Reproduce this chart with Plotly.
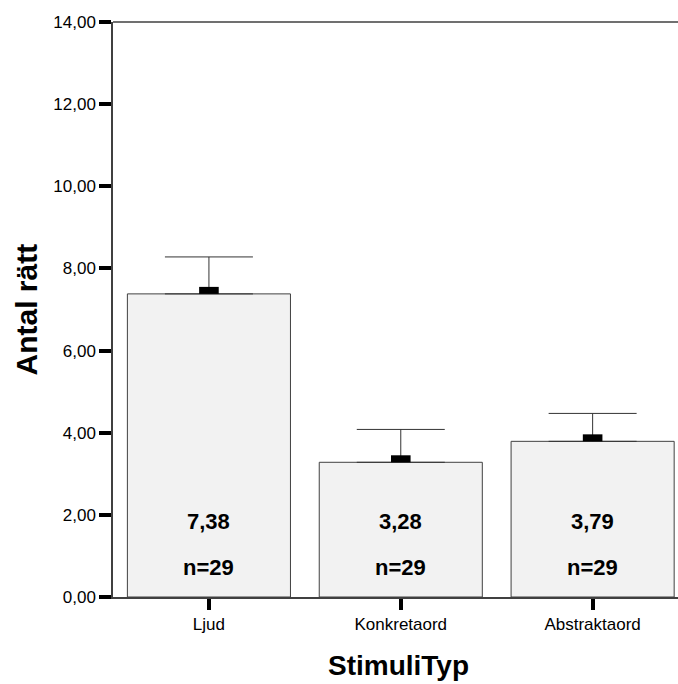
import plotly.graph_objects as go

categories = ["Ljud", "Konkretaord", "Abstraktaord"]
means = [7.38, 3.28, 3.79]
upper = [8.28, 4.08, 4.47]
counts = [29, 29, 29]
y_ticks = [0, 2, 4, 6, 8, 10, 12, 14]
y_ticklabels = ["0,00", "2,00", "4,00", "6,00", "8,00", "10,00", "12,00", "14,00"]

FONT = "Liberation Sans, Arial, sans-serif"
W, H = 678, 684
L, R, T, B = 113, 0, 22, 87
plot_h = H - T - B
ymax = 14
px_per_unit = plot_h / ymax

xs = list(range(len(categories)))

fig = go.Figure()
fig.add_trace(go.Bar(
    x=xs, y=means, width=0.85,
    marker=dict(color="#f2f2f2", line=dict(color="#404040", width=1)),
    error_y=dict(type="data", symmetric=False,
                 array=[u - m for u, m in zip(upper, means)],
                 arrayminus=[0] * len(means),
                 color="#333333", thickness=1, width=44),
    hoverinfo="skip", showlegend=False,
))
# mean marker: small black rectangle sitting on top of each bar
marker_h = 7
fig.add_trace(go.Scatter(
    x=xs, y=[m + (marker_h / 2) / px_per_unit for m in means],
    mode="markers",
    marker=dict(symbol="line-ew", size=14, color="black",
                line=dict(color="black", width=marker_h)),
    hoverinfo="skip", showlegend=False,
))

annotations = []
for i, (m, n) in enumerate(zip(means, counts)):
    annotations.append(dict(x=i, y=1.84, xref="x", yref="y",
                            text=f"{m:.2f}".replace(".", ","), showarrow=False,
                            font=dict(family=FONT, size=22, color="black", weight="bold")))
    annotations.append(dict(x=i, y=0.71, xref="x", yref="y",
                            text=f"n={n}", showarrow=False,
                            font=dict(family=FONT, size=22, color="black", weight="bold")))
annotations.append(dict(x=0, y=0.5, xref="paper", yref="paper", xshift=26 - L,
                        text="Antal rätt", textangle=-90, showarrow=False,
                        xanchor="center", yanchor="middle",
                        font=dict(family=FONT, size=30, color="black", weight="bold")))
annotations.append(dict(x=(398 - L) / (W - L - R), y=0, xref="paper", yref="paper",
                        yshift=-(665 - (H - B)),
                        text="StimuliTyp", showarrow=False,
                        xanchor="center", yanchor="middle",
                        font=dict(family=FONT, size=28, color="black", weight="bold")))

fig.update_layout(
    width=W, height=H,
    margin=dict(l=L, r=R, t=T, b=B, pad=0),
    plot_bgcolor="white", paper_bgcolor="white",
    bargap=0.15,
    annotations=annotations,
    shapes=[dict(type="line", xref="paper", yref="paper", x0=0, x1=1, y0=1, y1=1,
                 line=dict(color="#404040", width=1.5))],
    xaxis=dict(range=[-0.5, 2.445], tickvals=xs, ticktext=categories,
               showline=True, linecolor="#404040", linewidth=1.5,
               ticks="outside", ticklen=11, tickwidth=4, tickcolor="black",
               showgrid=False, zeroline=False,
               tickfont=dict(family=FONT, size=17, color="black")),
    yaxis=dict(range=[0, ymax], tickvals=y_ticks, ticktext=y_ticklabels,
               showline=True, linecolor="#404040", linewidth=1.5,
               ticks="outside", ticklen=12, tickwidth=4, tickcolor="black",
               showgrid=False, zeroline=False,
               tickfont=dict(family=FONT, size=17, color="black")),
)

fig.write_html(
    "out.html",
    config={"displayModeBar": False},
    post_script="document.body.style.margin='0';document.body.style.overflow='hidden';",
)
